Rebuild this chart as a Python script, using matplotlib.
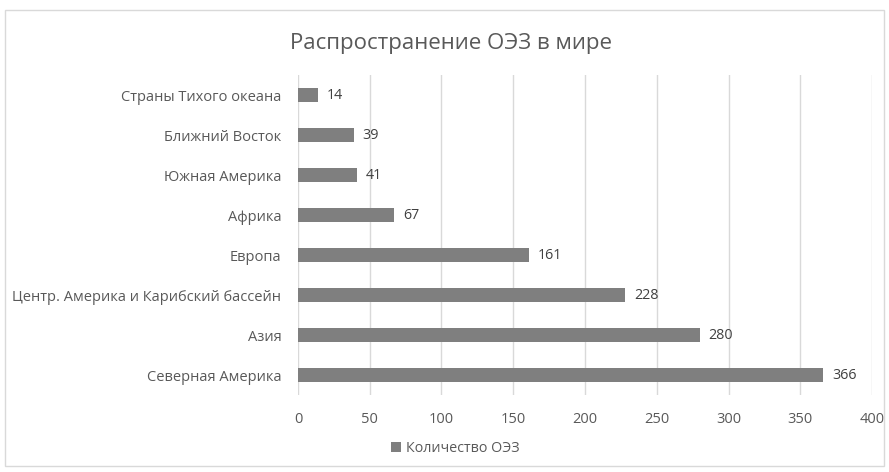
import matplotlib.pyplot as plt
from matplotlib.patches import Rectangle

plt.rcParams['font.family'] = ['Open Sans', 'DejaVu Sans']

# Data (bottom to top as drawn)
regions = ["Северная Америка", "Азия", "Центр. Америка и Карибский бассейн",
           "Европа", "Африка", "Южная Америка", "Ближний Восток",
           "Страны Тихого океана"]
counts = [366, 280, 228, 161, 67, 41, 39, 14]
x_ticks = [0, 50, 100, 150, 200, 250, 300, 350, 400]

bar_color = '#7f7f7f'
text_color = '#595959'

fig = plt.figure(figsize=(8.89, 4.72), dpi=100)
ax = fig.add_axes([0.3352, 0.1631, 0.6457, 0.678])

y = range(len(regions))
bars = ax.barh(y, counts, height=0.33, color=bar_color, zorder=3)

for yi, v in zip(y, counts):
    ax.text(v + 6, yi, str(v), va='center', ha='left', fontsize=10.3, color='#404040')

ax.set_xlim(0, 400)
ax.set_ylim(-0.5, len(regions) - 0.5)
ax.set_xticks(x_ticks)
ax.set_yticks(list(y))
ax.set_yticklabels(regions)
ax.tick_params(axis='both', length=0, labelsize=10.5, labelcolor=text_color)
ax.tick_params(axis='x', pad=12)
ax.tick_params(axis='y', pad=12)
ax.grid(axis='x', color='#d9d9d9', linewidth=1, zorder=0)
for s in ax.spines.values():
    s.set_visible(False)

fig.text(0.507, 0.908, "Распространение ОЭЗ в мире", ha='center', va='center',
         fontsize=16, color=text_color)

# legend
ax.legend([bars], ["Количество ОЭЗ"], loc='center', bbox_to_anchor=(0.512, 0.049),
          bbox_transform=fig.transFigure, frameon=False, fontsize=10.3,
          labelcolor=text_color, handlelength=0.7, handleheight=0.7, handletextpad=0.3)

# chart border
fig.patches.append(Rectangle((0.006, 0.013), 0.988, 0.966, transform=fig.transFigure,
                             fill=False, edgecolor='#d9d9d9', linewidth=1))

fig.savefig('out.png', dpi=100)
